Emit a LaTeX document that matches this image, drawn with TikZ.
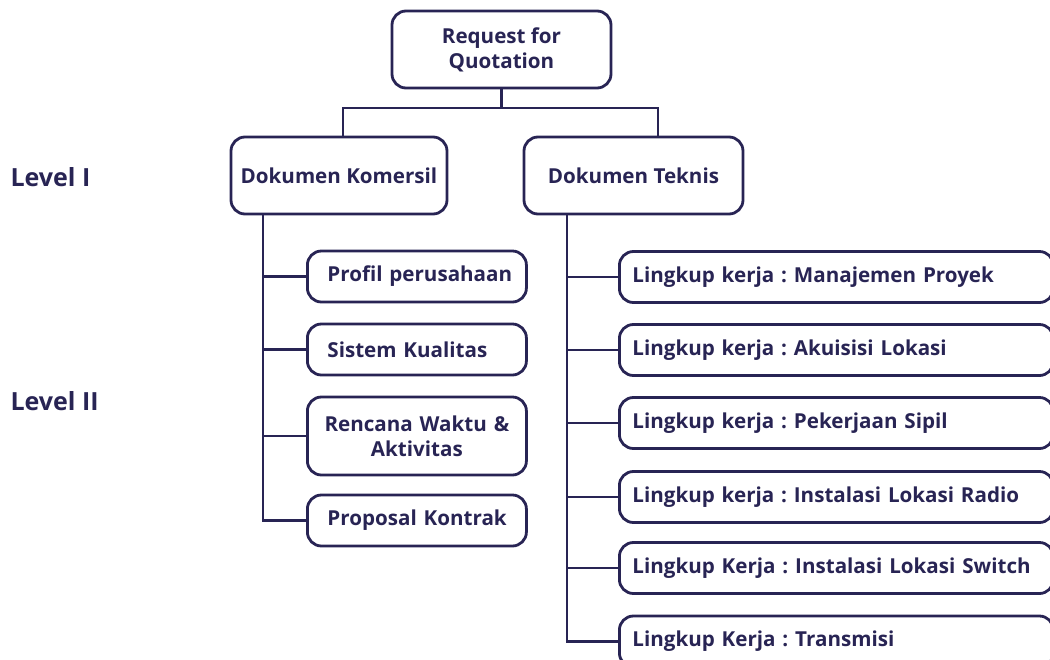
\documentclass[tikz,border=0pt]{standalone}
\usepackage{fontspec}
\setmainfont{Open Sans}
\definecolor{navy}{RGB}{40,36,84}
\begin{document}
\frenchspacing
\begin{tikzpicture}[x=1pt,y=-1pt,
  every node/.style={text=navy,font=\fontsize{20.6}{25}\selectfont\bfseries},
  box/.style={draw=navy,line width=2.8pt,rounded corners=14pt,inner sep=0pt},
  lbox/.style={box,minimum width=219pt,minimum height=51pt,text width=199pt,align=left,inner xsep=10pt,anchor=west},
  lpad/.style={execute at begin node=\hspace*{10pt}},
  rbox/.style={box,minimum width=434pt,minimum height=51pt,text width=408pt,align=left,inner xsep=13pt,anchor=west},
  lvl/.style={anchor=west,font=\fontsize{25}{30}\selectfont\bfseries},
  link/.style={draw=navy,line width=2.8pt}]
\useasboundingbox (0,0) rectangle (1050,659);
% top
\node[box,minimum width=219pt,minimum height=77pt,align=center] (rfq) at (501.5,49.5) {Request for\\Quotation};
\node[box,minimum width=216pt,minimum height=77pt] (kom) at (339,175.5) {Dokumen Komersil};
\node[box,minimum width=219pt,minimum height=77pt] (tek) at (633.5,175.5) {Dokumen Teknis};
\coordinate (jl) at (343,108);
\coordinate (jr) at (658,108);
\draw[link] (rfq.south) -- (rfq.south |- jl);
\draw[link] (jl |- kom.north) -- (jl) -- (jr) -- (jr |- tek.north);
% levels
\node[lvl] (l1) at (7,177) {Level I};
\node[lvl] (l2) at (7,401) {Level II};
% left column
\node[lbox,lpad] (prof) at (306,276.5) {Profil perusahaan};
\node[lbox,lpad] (sist) at (306,349.5) {Sistem Kualitas};
\node[lbox,minimum height=78pt,align=center] (renc) at (306,436) {Rencana Waktu \&\\Aktivitas};
\node[lbox,lpad] (prop) at (306,520.5) {Proposal Kontrak};
\coordinate (lx) at (263,0);
\draw[link] (lx |- kom.south) -- (lx |- prop.west) -- (prop.west);
\foreach \n in {prof,sist,renc} \draw[link] (lx |- \n.west) -- (\n.west);
% right column
\node[rbox] (r1) at (618,277) {Lingkup kerja : Manajemen Proyek};
\node[rbox] (r2) at (618,350) {Lingkup kerja : Akuisisi Lokasi};
\node[rbox] (r3) at (618,423) {Lingkup kerja : Pekerjaan Sipil};
\node[rbox] (r4) at (618,497) {Lingkup kerja : Instalasi Lokasi Radio};
\node[rbox] (r5) at (618,568) {Lingkup Kerja : Instalasi Lokasi Switch};
\node[rbox] (r6) at (618,641.5) {Lingkup Kerja : Transmisi};
\coordinate (rx) at (567,0);
\draw[link] (rx |- tek.south) -- (rx |- r6.west) -- (r6.west);
\foreach \n in {r1,r2,r3,r4,r5} \draw[link] (rx |- \n.west) -- (\n.west);
\end{tikzpicture}
\end{document}
